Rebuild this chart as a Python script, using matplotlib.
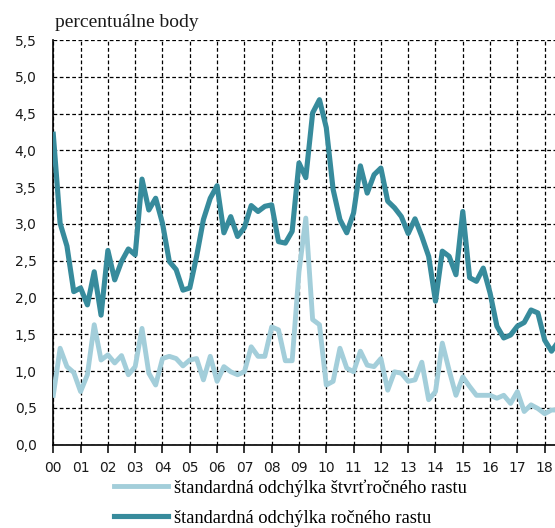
import numpy as np
import matplotlib.pyplot as plt
import matplotlib.ticker as mticker

# quarterly observations, 2000Q1 .. 2018Q3
start_year = 2000

annual_sd = [
    4.22, 3.01, 2.70, 2.08, 2.13, 1.90, 2.35, 1.76, 2.64, 2.24,
    2.49, 2.66, 2.58, 3.61, 3.19, 3.35, 3.01, 2.49, 2.38, 2.10,
    2.13, 2.56, 3.06, 3.35, 3.52, 2.88, 3.10, 2.83, 2.95, 3.25,
    3.17, 3.24, 3.26, 2.76, 2.74, 2.90, 3.83, 3.63, 4.51, 4.69,
    4.31, 3.47, 3.06, 2.88, 3.15, 3.79, 3.42, 3.67, 3.76, 3.31,
    3.22, 3.10, 2.87, 3.07, 2.83, 2.56, 1.95, 2.63, 2.56, 2.31,
    3.17, 2.27, 2.22, 2.40, 2.06, 1.61, 1.45, 1.49, 1.61, 1.66,
    1.83, 1.79, 1.42, 1.27, 1.40,
]

quarterly_sd = [
    0.67, 1.31, 1.06, 0.98, 0.72, 0.95, 1.63, 1.15, 1.22, 1.11,
    1.21, 0.95, 1.06, 1.58, 0.97, 0.81, 1.17, 1.20, 1.17, 1.07,
    1.15, 1.17, 0.88, 1.20, 0.86, 1.06, 0.99, 0.95, 0.99, 1.33,
    1.20, 1.20, 1.60, 1.56, 1.14, 1.14, 2.35, 3.08, 1.70, 1.63,
    0.81, 0.86, 1.31, 1.04, 0.99, 1.27, 1.08, 1.06, 1.17, 0.74,
    0.99, 0.97, 0.86, 0.88, 1.12, 0.61, 0.72, 1.38, 1.01, 0.67,
    0.92, 0.79, 0.67, 0.67, 0.67, 0.63, 0.67, 0.56, 0.72, 0.45,
    0.54, 0.49, 0.42, 0.47, 0.47,
]

year_labels = ["%02d" % y for y in range(0, 19)]
y_ticks = np.arange(0, 5.51, 0.5)

label_quarterly = "štandardná odchýlka štvrťročného rastu"
label_annual = "štandardná odchýlka ročného rastu"
y_title = "percentuálne body"

light = "#a3ceda"
dark = "#378b9c"

t = start_year + np.arange(len(annual_sd)) / 4.0

fig = plt.figure(figsize=(5.55, 5.28), dpi=100)
# axes deliberately run past the right edge (the original is cropped there)
ax = fig.add_axes([0.096, 0.158, 0.9346, 0.766])

ax.plot(t, quarterly_sd, color=light, lw=3.5, solid_joinstyle="round",
        label=label_quarterly, zorder=3)
ax.plot(t, annual_sd, color=dark, lw=3.7, solid_joinstyle="round",
        label=label_annual, zorder=4)

ax.set_xlim(2000, 2019)
ax.set_ylim(0, 5.5)
ax.xaxis.set_major_locator(mticker.FixedLocator(np.arange(2000, 2019)))
ax.set_xticklabels(year_labels)
ax.set_yticks(y_ticks)
ax.set_yticklabels([("%.1f" % v).replace(".", ",") for v in y_ticks])

ax.grid(True, color="black", lw=0.9, linestyle=(0, (3, 2)))
ax.set_axisbelow(True)
for s in ["top", "right"]:
    ax.spines[s].set_visible(False)
ax.spines["left"].set_linewidth(1.2)
ax.spines["bottom"].set_linewidth(1.2)

ax.tick_params(axis="x", direction="out", length=6, width=1.1, pad=6,
               labelsize=10, colors="black")
ax.tick_params(axis="y", length=0, pad=12, labelsize=10)
for lab in ax.get_yticklabels() + ax.get_xticklabels():
    lab.set_color("#1a1a1a")

fig.text(0.099, 0.957, y_title, family="Liberation Serif", fontsize=14,
         va="center", ha="left", color="#1a1a1a")

fig.legend(loc="upper left", bbox_to_anchor=(0.205, 0.092), frameon=False,
           prop={"family": "Liberation Serif", "size": 13.3},
           handlelength=2.95, handletextpad=0.3, labelspacing=0.7,
           borderaxespad=0, borderpad=0)

fig.savefig("out.png", dpi=100)
